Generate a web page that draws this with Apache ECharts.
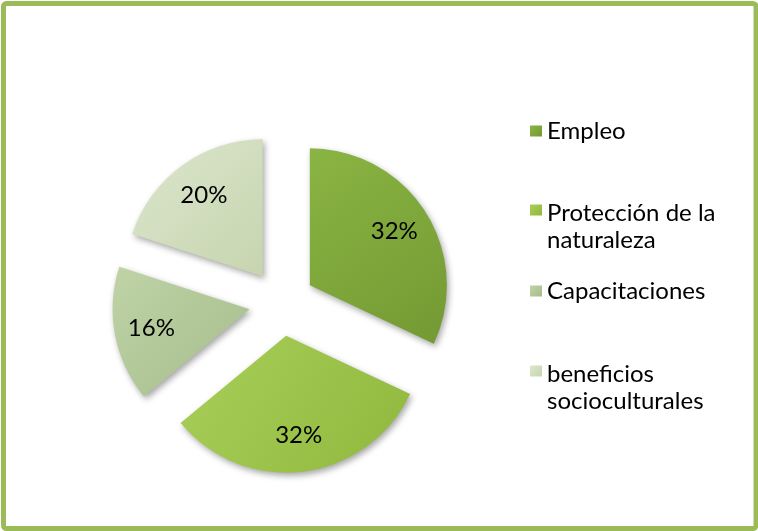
<!DOCTYPE html>
<html>
<head>
<meta charset="utf-8">
<script src="https://cdn.jsdelivr.net/npm/echarts@6/dist/echarts.min.js"></script>
<style>
  html, body { margin: 0; padding: 0; background: #fff; }
  #chart { width: 758px; height: 531px; }
</style>
</head>
<body>
<div id="chart"></div>
<script>
const categories = ['Empleo', 'Protección de la naturaleza', 'Capacitaciones', 'beneficios socioculturales']
const shares = [32, 32, 16, 20]
// legend text as it wraps in the original
const legendLines = [['Empleo'], ['Protección de la', 'naturaleza'], ['Capacitaciones'], ['beneficios', 'socioculturales']]

const palette = [
  ['#8ab443', '#739a33'],
  ['#a8cf57', '#90b83f'],
  ['#bfd3a7', '#a6bd8a'],
  ['#dce6cd', '#c6d5af']
]

function grad(c) {
  return new echarts.graphic.LinearGradient(0, 0, 1, 1, [
    { offset: 0, color: c[0] },
    { offset: 1, color: c[1] }
  ])
}

const chart = echarts.init(document.getElementById('chart'), null, { renderer: 'canvas' })

const pieData = categories.map((name, i) => ({
  name,
  value: shares[i],
  selected: true,
  itemStyle: { color: grad(palette[i]) }
}))

const labelData = categories.map((name, i) => ({
  name,
  value: shares[i],
  selected: true
}))

const legendTops = [116, 165, 276, 326]
const font = { fontFamily: 'Lato', fontSize: 24, color: '#000' }

const legends = categories.map((name, i) => {
  const lines = legendLines[i]
  return {
    orient: 'vertical',
    left: 530,
    top: legendTops[i],
    padding: 0,
    icon: 'rect',
    itemWidth: 12,
    itemHeight: 11,
    selectedMode: false,
    data: [{ name, itemStyle: { color: grad(palette[i]) } }],
    // first line sits level with the icon, extra lines hang below it
    formatter: () => lines.length > 1
      ? '{a|' + lines[0] + '}\n{b|' + lines.slice(1).join('}\n{b|') + '}'
      : lines[0],
    textStyle: {
      ...font,
      lineHeight: 30,
      rich: {
        a: { ...font, lineHeight: 30 + 30 * (lines.length - 1), verticalAlign: 'bottom' },
        b: { ...font, lineHeight: 30 }
      }
    }
  }
})

const option = {
  backgroundColor: '#fff',
  animation: false,
  graphic: [{
    type: 'rect',
    shape: { x: 3.5, y: 3.5, width: 752.5, height: 525, r: 3 },
    style: { fill: 'none', stroke: '#9bbb59', lineWidth: 5 },
    silent: true,
    z: 100
  }],
  legend: legends,
  series: [
    {
      name: 'slices',
      type: 'pie',
      center: [282, 303],
      radius: [0, 137],
      startAngle: 90,
      clockwise: true,
      selectedMode: 'multiple',
      selectedOffset: 33,
      label: { show: false },
      labelLine: { show: false },
      emphasis: { disabled: true },
      itemStyle: {
        shadowBlur: 6,
        shadowOffsetX: 2,
        shadowOffsetY: 3,
        shadowColor: 'rgba(0,0,0,0.35)'
      },
      data: pieData
    },
    {
      name: 'labels',
      type: 'pie',
      center: [282, 303],
      radius: [57, 137],
      startAngle: 90,
      clockwise: true,
      selectedMode: 'multiple',
      selectedOffset: 33,
      silent: true,
      emphasis: { disabled: true },
      itemStyle: { color: 'rgba(0,0,0,0)' },
      label: {
        show: true,
        position: 'inside',
        formatter: p => p.value + '%',
        ...font
      },
      labelLine: { show: false },
      data: labelData
    }
  ]
}

chart.setOption(option)
</script>
</body>
</html>
